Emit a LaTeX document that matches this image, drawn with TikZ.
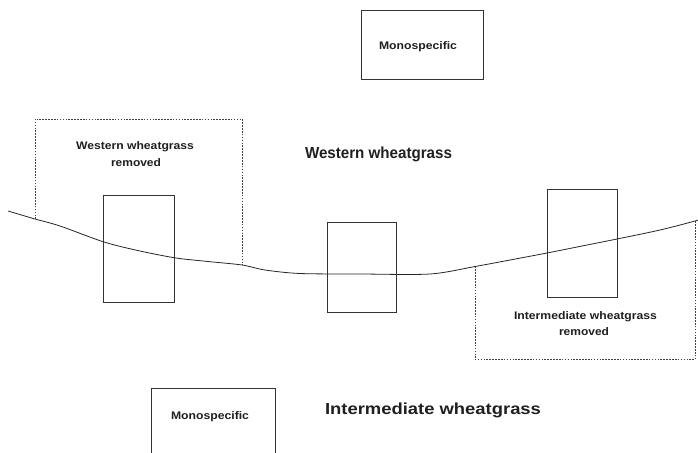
\documentclass[tikz,border=0pt]{standalone}
\usepackage{fontspec}
\setmainfont{Liberation Sans}
\newcommand\fitw[2]{\resizebox{#1}{\height}{#2}}
\begin{document}
\begin{tikzpicture}[x=1pt,y=-1pt,
  plotbox/.style={draw=black!80, line width=0.8pt, inner sep=0pt},
  zone/.style={draw=black!75, line width=0.7pt, dash pattern=on 1.6pt off 1.3pt},
  border/.style={draw=black!85, line width=0.8pt},
  lab/.style={font=\fontsize{11}{13}\selectfont\bfseries, text=black!88, inner sep=0pt, anchor=base},
  title/.style={font=\fontsize{16}{19}\selectfont\bfseries, text=black!88, inner sep=0pt, anchor=base}]
\useasboundingbox (0,0) rectangle (698,452);
\clip (0,0) rectangle (698,452);

% monospecific boxes
\node[plotbox, minimum width=122pt, minimum height=69pt] (monotop) at (422,44.5) {};
\node[lab] (monotoptxt) at (418,49) {\fitw{78pt}{Monospecific}};
\node[plotbox, minimum width=124pt, minimum height=80pt] (monobot) at (213,428) {};
\node[lab] (monobottxt) at (210,419.5) {\fitw{78pt}{Monospecific}};

% boundary curve points
\coordinate (c0) at (8,211);
\coordinate (wl) at (35,219);
\coordinate (c1) at (60,226);
\coordinate (c2) at (104,242);
\coordinate (c3) at (140,251);
\coordinate (c4) at (176,258);
\coordinate (c5) at (208,261.5);
\coordinate (wr) at (242,265);
\coordinate (c6) at (265,270);
\coordinate (c7) at (300,273.5);
\coordinate (c8) at (361,274);
\coordinate (c9) at (430,274);
\coordinate (il) at (475,266.5);
\coordinate (c10) at (510,260);
\coordinate (c11) at (547,253);
\coordinate (c12) at (582,246);
\coordinate (c13) at (617,239);
\coordinate (c14) at (660,230);
\coordinate (ir) at (695,221);
\coordinate (c15) at (699,219);
\draw[border] plot[smooth, tension=0.5] coordinates {(c0) (wl) (c1) (c2) (c3) (c4) (c5) (wr) (c6) (c7) (c8) (c9) (il) (c10) (c11) (c12) (c13) (c14) (ir) (c15)};

% removal zones
\coordinate (wtl) at (35,119);
\coordinate (wtr) at (242,119);
\draw[zone] (wl) -- (wtl) -- (wtr) -- (wr);
\coordinate (ibl) at (475,359.5);
\coordinate (ibr) at (695,359.5);
\draw[zone] (il) -- (ibl) -- (ibr) -- (ir);

% plots
\node[plotbox, minimum width=71pt, minimum height=107pt] (p1) at (138.5,248.5) {};
\node[plotbox, minimum width=69pt, minimum height=90pt] (p2) at (361.5,267) {};
\node[plotbox, minimum width=70pt, minimum height=108pt] (p3) at (582,243) {};

% labels
\node[lab] (wrem1) at (135,149) {\fitw{118pt}{Western wheatgrass}};
\node[lab] (wrem2) at (136,166) {\fitw{50pt}{removed}};
\node[lab] (irem1) at (585.5,319) {\fitw{143pt}{Intermediate wheatgrass}};
\node[lab] (irem2) at (584,335) {\fitw{50pt}{removed}};
\node[title] (wtitle) at (378.5,158) {\fitw{147pt}{Western wheatgrass}};
\node[title] (ititle) at (433,414.5) {\fitw{216pt}{Intermediate wheatgrass}};
\end{tikzpicture}
\end{document}
